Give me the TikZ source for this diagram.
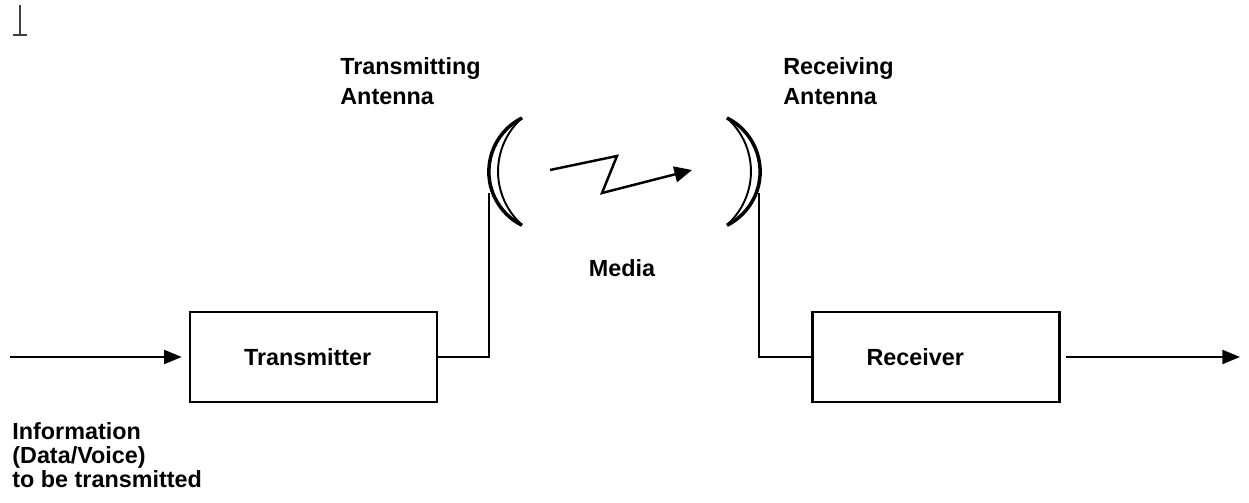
\documentclass[tikz,border=0pt]{standalone}
\usepackage{fontspec}
\setmainfont{Liberation Sans}
\usetikzlibrary{arrows.meta}

\newcommand{\diagfont}{\bfseries\fontsize{13.3}{17}\selectfont}
\newcommand{\infofont}{\bfseries\fontsize{13.3}{13.7}\selectfont}

\begin{document}
\begin{tikzpicture}[x=0.02cm, y=0.02cm,
    box/.style={draw, line width=1.5pt, minimum width=4.94cm, minimum height=1.8cm,
        text width=2.78cm, inner xsep=1.08cm, align=left, font=\diagfont},
    lead/.style={line width=1pt},
    feed/.style={line width=1pt, -{Triangle[length=10pt,width=8pt]}},
    caption/.style={anchor=north west, align=left, inner sep=0, font=\diagfont}]
    \useasboundingbox (0,0) rectangle (1249,503);
    % mark in the corner
    \draw[line width=1.2pt, black!75] (20,498) -- (20,468) (13,468) -- (27,468);
    % blocks
    \node[box] (tx) at (313.5,146) {Transmitter};
    \node[box] (rx) at (936,146) {Receiver};
    % input and output
    \coordinate (src) at (10,146);
    \coordinate (sink) at (1240,146);
    \draw[feed, shorten >=4pt] (src) -- (tx);
    \draw[feed, shorten <=3pt] (rx) -- (sink);
    % antennas
    \coordinate (txfeed) at (489,310);
    \coordinate (rxfeed) at (759,310);
    \draw[lead] (tx.east) -| (txfeed);
    \draw[lead] (rxfeed) |- (rx.west);
    \draw[line width=2pt] (522,385) arc[start angle=116.6, end angle=243.4, radius=60];
    \draw[line width=1.1pt] (522,385) arc[start angle=131.7, end angle=228.3, radius=71.6];
    \draw[line width=2pt] (727,385) arc[start angle=63.4, end angle=-63.4, radius=60];
    \draw[line width=1.1pt] (727,385) arc[start angle=48.3, end angle=-48.3, radius=71.6];
    % radio link
    \draw[line width=1.4pt, -{Triangle[length=10pt,width=9pt]}] (550,333) -- (617,347) -- (602,310) -- (692,333);
    % labels
    \node[caption] (txlbl) at (340,446) {Transmitting\\Antenna};
    \node[caption] (rxlbl) at (783,446) {Receiving\\Antenna};
    \node[inner sep=0, font=\diagfont] (media) at (622,235) {Media};
    \node[caption, font=\infofont] (info) at (12,81) {Information\\(Data/Voice)\\to be transmitted};
\end{tikzpicture}
\end{document}
